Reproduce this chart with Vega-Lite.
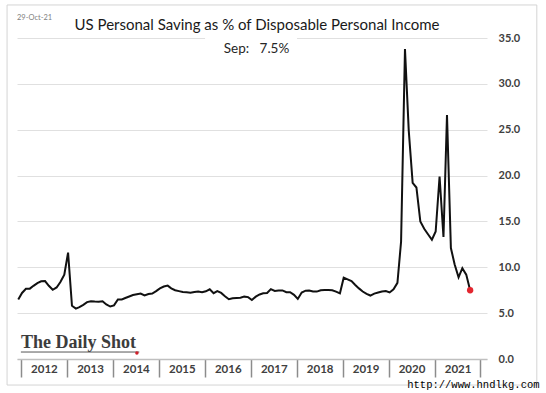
{
  "$schema": "https://vega.github.io/schema/vega-lite/v6.json",
  "width": 470,
  "height": 321,
  "autosize": {"type": "none"},
  "padding": {"left": 17, "top": 38, "right": 59, "bottom": 34},
  "background": "white",
  "config": {"view": {"stroke": null}, "font": "Lato"},
  "title": {
    "text": "US Personal Saving as % of Disposable Personal Income",
    "font": "Lato", "fontSize": 15, "fontWeight": "normal", "color": "#1a1a1a",
    "anchor": "middle", "frame": "group", "dx": 5, "offset": -44, "baseline": "bottom"
  },
  "data": {"values": [
    {"date": "2011-11-01", "rate": 6.5}, {"date": "2011-12-01", "rate": 7.2},
    {"date": "2012-01-01", "rate": 7.65}, {"date": "2012-02-01", "rate": 7.67}, {"date": "2012-03-01", "rate": 7.98}, {"date": "2012-04-01", "rate": 8.28},
    {"date": "2012-05-01", "rate": 8.47}, {"date": "2012-06-01", "rate": 8.5}, {"date": "2012-07-01", "rate": 7.98}, {"date": "2012-08-01", "rate": 7.55},
    {"date": "2012-09-01", "rate": 7.8}, {"date": "2012-10-01", "rate": 8.4}, {"date": "2012-11-01", "rate": 9.2}, {"date": "2012-12-01", "rate": 11.6},
    {"date": "2013-01-01", "rate": 5.8}, {"date": "2013-02-01", "rate": 5.5}, {"date": "2013-03-01", "rate": 5.65}, {"date": "2013-04-01", "rate": 5.9},
    {"date": "2013-05-01", "rate": 6.2}, {"date": "2013-06-01", "rate": 6.3}, {"date": "2013-07-01", "rate": 6.27}, {"date": "2013-08-01", "rate": 6.25},
    {"date": "2013-09-01", "rate": 6.3}, {"date": "2013-10-01", "rate": 5.95}, {"date": "2013-11-01", "rate": 5.72}, {"date": "2013-12-01", "rate": 5.85},
    {"date": "2014-01-01", "rate": 6.5}, {"date": "2014-02-01", "rate": 6.5}, {"date": "2014-03-01", "rate": 6.65}, {"date": "2014-04-01", "rate": 6.82},
    {"date": "2014-05-01", "rate": 6.97}, {"date": "2014-06-01", "rate": 7.06}, {"date": "2014-07-01", "rate": 7.14}, {"date": "2014-08-01", "rate": 6.93},
    {"date": "2014-09-01", "rate": 7.09}, {"date": "2014-10-01", "rate": 7.14}, {"date": "2014-11-01", "rate": 7.4}, {"date": "2014-12-01", "rate": 7.7},
    {"date": "2015-01-01", "rate": 7.9}, {"date": "2015-02-01", "rate": 8.0}, {"date": "2015-03-01", "rate": 7.7}, {"date": "2015-04-01", "rate": 7.5},
    {"date": "2015-05-01", "rate": 7.4}, {"date": "2015-06-01", "rate": 7.3}, {"date": "2015-07-01", "rate": 7.27}, {"date": "2015-08-01", "rate": 7.23},
    {"date": "2015-09-01", "rate": 7.3}, {"date": "2015-10-01", "rate": 7.36}, {"date": "2015-11-01", "rate": 7.28}, {"date": "2015-12-01", "rate": 7.38},
    {"date": "2016-01-01", "rate": 7.6}, {"date": "2016-02-01", "rate": 7.18}, {"date": "2016-03-01", "rate": 7.4}, {"date": "2016-04-01", "rate": 7.2},
    {"date": "2016-05-01", "rate": 6.85}, {"date": "2016-06-01", "rate": 6.52}, {"date": "2016-07-01", "rate": 6.63}, {"date": "2016-08-01", "rate": 6.66},
    {"date": "2016-09-01", "rate": 6.69}, {"date": "2016-10-01", "rate": 6.8}, {"date": "2016-11-01", "rate": 6.75}, {"date": "2016-12-01", "rate": 6.43},
    {"date": "2017-01-01", "rate": 6.8}, {"date": "2017-02-01", "rate": 7.04}, {"date": "2017-03-01", "rate": 7.16}, {"date": "2017-04-01", "rate": 7.2},
    {"date": "2017-05-01", "rate": 7.62}, {"date": "2017-06-01", "rate": 7.42}, {"date": "2017-07-01", "rate": 7.47}, {"date": "2017-08-01", "rate": 7.48},
    {"date": "2017-09-01", "rate": 7.28}, {"date": "2017-10-01", "rate": 7.28}, {"date": "2017-11-01", "rate": 7.0}, {"date": "2017-12-01", "rate": 6.55},
    {"date": "2018-01-01", "rate": 7.25}, {"date": "2018-02-01", "rate": 7.45}, {"date": "2018-03-01", "rate": 7.46}, {"date": "2018-04-01", "rate": 7.36},
    {"date": "2018-05-01", "rate": 7.35}, {"date": "2018-06-01", "rate": 7.5}, {"date": "2018-07-01", "rate": 7.52}, {"date": "2018-08-01", "rate": 7.52},
    {"date": "2018-09-01", "rate": 7.5}, {"date": "2018-10-01", "rate": 7.35}, {"date": "2018-11-01", "rate": 7.16}, {"date": "2018-12-01", "rate": 8.87},
    {"date": "2019-01-01", "rate": 8.68}, {"date": "2019-02-01", "rate": 8.5}, {"date": "2019-03-01", "rate": 8.1}, {"date": "2019-04-01", "rate": 7.7},
    {"date": "2019-05-01", "rate": 7.36}, {"date": "2019-06-01", "rate": 7.1}, {"date": "2019-07-01", "rate": 6.92}, {"date": "2019-08-01", "rate": 7.13},
    {"date": "2019-09-01", "rate": 7.25}, {"date": "2019-10-01", "rate": 7.35}, {"date": "2019-11-01", "rate": 7.4}, {"date": "2019-12-01", "rate": 7.26},
    {"date": "2020-01-01", "rate": 7.6}, {"date": "2020-02-01", "rate": 8.3}, {"date": "2020-03-01", "rate": 12.8}, {"date": "2020-04-01", "rate": 33.8},
    {"date": "2020-05-01", "rate": 24.9}, {"date": "2020-06-01", "rate": 19.2}, {"date": "2020-07-01", "rate": 18.7}, {"date": "2020-08-01", "rate": 15.0},
    {"date": "2020-09-01", "rate": 14.2}, {"date": "2020-10-01", "rate": 13.6}, {"date": "2020-11-01", "rate": 13.0}, {"date": "2020-12-01", "rate": 13.9},
    {"date": "2021-01-01", "rate": 19.9}, {"date": "2021-02-01", "rate": 13.3}, {"date": "2021-03-01", "rate": 26.6}, {"date": "2021-04-01", "rate": 12.1},
    {"date": "2021-05-01", "rate": 10.3}, {"date": "2021-06-01", "rate": 8.9}, {"date": "2021-07-01", "rate": 9.9}, {"date": "2021-08-01", "rate": 9.2},
    {"date": "2021-09-01", "rate": 7.5}
  ]},
  "layer": [
    {
      "data": {"values": [{}]},
      "mark": {"type": "rect", "fill": null, "stroke": "#d4d4d4", "strokeWidth": 1},
      "encoding": {
        "x": {"datum": {"year": 2011, "month": 8, "date": 4, "utc": true}, "type": "temporal", "title": null},
        "x2": {"datum": {"year": 2023, "month": 2, "date": 13, "utc": true}},
        "y": {"datum": 38.6, "type": "quantitative", "title": null},
        "y2": {"datum": -2.84}
      }
    },
    {
      "data": {"values": [{}]},
      "mark": {"type": "rect", "fill": "white", "stroke": null},
      "encoding": {
        "x": {"datum": {"year": 2015, "month": 11, "date": 25, "utc": true}, "type": "temporal", "title": null},
        "x2": {"datum": {"year": 2017, "month": 11, "date": 25, "utc": true}},
        "y": {"datum": 34.6, "type": "quantitative", "title": null},
        "y2": {"datum": 35.4}
      }
    },
    {
      "mark": {"type": "line", "color": "#111111", "strokeWidth": 2},
      "encoding": {
        "x": {
          "field": "date", "type": "temporal", "title": null,
          "scale": {"type": "utc", "domain": [{"year": 2011, "month": 10, "date": 22, "utc": true}, {"year": 2022, "month": 1, "date": 13, "utc": true}]},
          "axis": {
            "title": null, "grid": false,
            "values": [
              {"year": 2012, "utc": true}, {"year": 2013, "utc": true}, {"year": 2014, "utc": true}, {"year": 2015, "utc": true},
              {"year": 2016, "utc": true}, {"year": 2017, "utc": true}, {"year": 2018, "utc": true}, {"year": 2019, "utc": true},
              {"year": 2020, "utc": true}, {"year": 2021, "utc": true}, {"year": 2022, "utc": true}
            ],
            "labelExpr": "utcyear(datum.value) == 2022 ? '' : utcFormat(datum.value, '%Y')",
            "tickSize": 18, "tickColor": "#8c8c8c", "tickWidth": 1.5, "tickOffset": -5,
            "labelOffset": 23, "labelPadding": -14, "labelAlign": "center",
            "labelFont": "Lato", "labelFontSize": 11.5, "labelFontWeight": "bold", "labelColor": "#404040",
            "labelFlush": false, "labelOverlap": false,
            "domainColor": "#bfbfbf", "domainWidth": 1.5
          }
        },
        "y": {
          "field": "rate", "type": "quantitative", "title": null,
          "scale": {"domain": [0, 35], "nice": false},
          "axis": {
            "orient": "right", "title": null, "values": [0, 5, 10, 15, 20, 25, 30, 35], "format": ".1f",
            "domain": false, "ticks": false, "labelPadding": 11, "labelAlign": "left",
            "labelFont": "Lato", "labelFontSize": 11, "labelFontWeight": "bold", "labelColor": "#404040",
            "grid": true, "gridColor": "#e0e0e0", "gridWidth": 1
          }
        }
      }
    },
    {
      "transform": [{"filter": "utcyear(datum.date) == 2021 && utcmonth(datum.date) == 8"}],
      "mark": {"type": "circle", "color": "#e3262f", "size": 40, "opacity": 1},
      "encoding": {
        "x": {"field": "date", "type": "temporal", "title": null},
        "y": {"field": "rate", "type": "quantitative", "title": null}
      }
    },
    {
      "data": {"values": [{}]},
      "mark": {"type": "text", "text": "29-Oct-21", "align": "left", "baseline": "middle", "font": "Lato", "fontSize": 7.5, "color": "#7f7f7f"},
      "encoding": {
        "x": {"datum": {"year": 2011, "month": 10, "date": 22, "utc": true}, "type": "temporal", "title": null},
        "y": {"datum": 37.2, "type": "quantitative", "title": null}
      }
    },
    {
      "data": {"values": [{}]},
      "mark": {"type": "text", "text": "Sep:\u00a0\u00a0 7.5%", "align": "center", "baseline": "middle", "font": "Lato", "fontSize": 13.5, "color": "#262626"},
      "encoding": {
        "x": {"datum": {"year": 2017, "month": 1, "date": 7, "utc": true}, "type": "temporal", "title": null},
        "y": {"datum": 33.8, "type": "quantitative", "title": null}
      }
    },
    {
      "data": {"values": [{}]},
      "mark": {"type": "text", "text": "The Daily Shot", "align": "left", "baseline": "alphabetic", "font": "Liberation Serif", "fontWeight": "bold", "fontSize": 18, "color": "#3c3c3c"},
      "encoding": {
        "x": {"datum": {"year": 2011, "month": 11, "date": 22, "utc": true}, "type": "temporal", "title": null},
        "y": {"datum": 1.2, "type": "quantitative", "title": null}
      }
    },
    {
      "data": {"values": [{}]},
      "mark": {"type": "rule", "color": "#555555", "strokeWidth": 1},
      "encoding": {
        "x": {"datum": {"year": 2011, "month": 11, "date": 22, "utc": true}, "type": "temporal", "title": null},
        "x2": {"datum": {"year": 2014, "month": 6, "date": 20, "utc": true}},
        "y": {"datum": 0.76, "type": "quantitative", "title": null}
      }
    },
    {
      "data": {"values": [{}]},
      "mark": {"type": "circle", "color": "#d0202a", "size": 12, "opacity": 1},
      "encoding": {
        "x": {"datum": {"year": 2014, "month": 6, "date": 1, "utc": true}, "type": "temporal", "title": null},
        "y": {"datum": 0.65, "type": "quantitative", "title": null}
      }
    },
    {
      "data": {"values": [{}]},
      "mark": {"type": "text", "text": "http://www.hndlkg.com", "align": "right", "baseline": "middle", "font": "Liberation Mono", "fontSize": 10.5, "color": "#000000"},
      "encoding": {
        "x": {"datum": {"year": 2023, "month": 3, "date": 7, "utc": true}, "type": "temporal", "title": null},
        "y": {"datum": -2.84, "type": "quantitative", "title": null}
      }
    }
  ]
}
